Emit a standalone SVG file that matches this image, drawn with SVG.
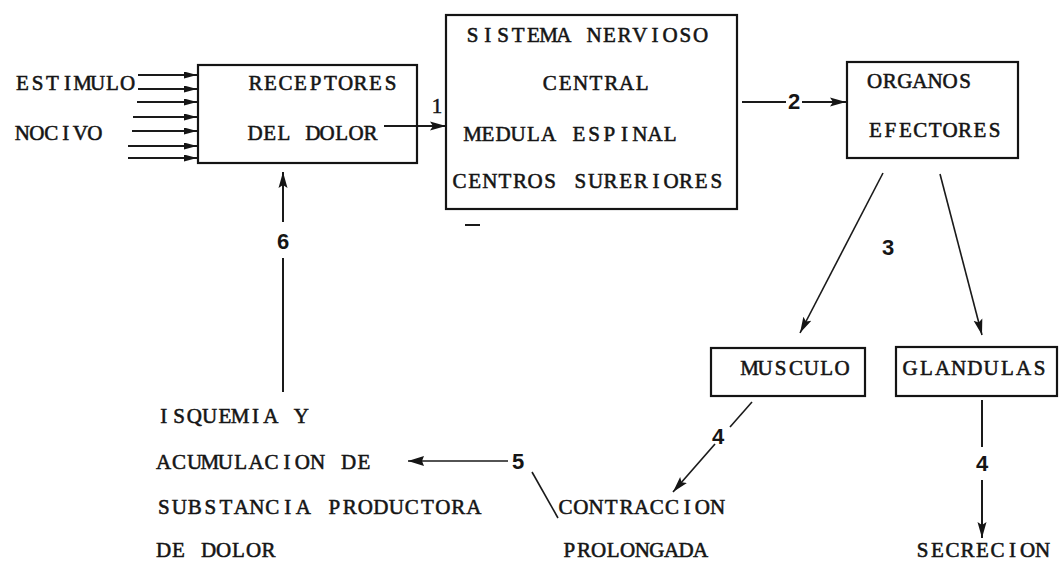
<svg xmlns="http://www.w3.org/2000/svg" width="1059" height="565" viewBox="0 0 1059 565">
<style>
.bg{fill:#ffffff}
.box{fill:none;stroke:#141414;stroke-width:2.2}
.tw{font-family:"Liberation Serif","DejaVu Serif",serif;font-size:21px;fill:#151515;stroke:#151515;stroke-width:0.55;text-anchor:middle}
.num{font-family:"Liberation Sans","DejaVu Sans",sans-serif;font-size:22px;font-weight:bold;fill:#151515}
.ln{stroke:#1a1a1a;stroke-width:1.6;fill:none}
.lns{stroke:#1a1a1a;stroke-width:2;fill:none}
</style>
<defs>
<marker id="ah" markerUnits="userSpaceOnUse" markerWidth="17" markerHeight="10" refX="16" refY="5" orient="auto">
<path d="M0,0.5 L16,5 L0,9.5 L3,5 z" fill="#151515"/>
</marker>
<marker id="ahs" markerUnits="userSpaceOnUse" markerWidth="13" markerHeight="7" refX="13" refY="3.5" orient="auto">
<path d="M0,0 L13,3.5 L0,7 z" fill="#151515"/>
</marker>
<marker id="ahb" markerUnits="userSpaceOnUse" markerWidth="17" markerHeight="11" refX="16" refY="5.5" orient="auto">
<path d="M0,0.5 L16,5.5 L0,10.5 L2,5.5 z" fill="#151515"/>
</marker>
</defs>
<rect class="bg" x="0" y="0" width="1059" height="565"/>

<g id="connectors">
<g id="stimulus-arrows">
<line class="lns" x1="138" y1="75" x2="197" y2="75" marker-end="url(#ahs)"/>
<line class="lns" x1="138" y1="89" x2="197" y2="89" marker-end="url(#ahs)"/>
<line class="lns" x1="137" y1="102" x2="197" y2="102" marker-end="url(#ahs)"/>
<line class="lns" x1="133" y1="117" x2="197" y2="117" marker-end="url(#ahs)"/>
<line class="lns" x1="132" y1="131" x2="197" y2="131" marker-end="url(#ahs)"/>
<line class="lns" x1="128" y1="146" x2="197" y2="146" marker-end="url(#ahs)"/>
<line class="lns" x1="128" y1="158" x2="197" y2="158" marker-end="url(#ahs)"/>
</g>
<g id="c1">
<line class="lns" x1="384" y1="126" x2="446" y2="126" marker-end="url(#ah)"/>
<text class="tw" x="437" y="113" font-size="22">1</text>
</g>
<g id="c2">
<line class="lns" x1="742" y1="102" x2="786" y2="102"/>
<line class="lns" x1="802" y1="102" x2="846" y2="102" marker-end="url(#ah)"/>
<text class="num" x="794" y="109" font-size="19" text-anchor="middle">2</text>
</g>
<g id="c3">
<line class="ln" x1="883" y1="173" x2="800" y2="333" marker-end="url(#ah)" stroke="#333"/>
<text class="num" x="888" y="255" text-anchor="middle">3</text>
</g>
<g id="c-glandulas">
<line class="ln" x1="940" y1="174" x2="982" y2="335" marker-end="url(#ah)"/>
</g>
<g id="c4a">
<line class="ln" x1="752" y1="402" x2="730" y2="427"/>
<line class="ln" x1="715" y1="444" x2="673" y2="492" marker-end="url(#ah)"/>
<text class="num" x="718" y="444" text-anchor="middle">4</text>
</g>
<g id="c4b">
<line class="lns" x1="982" y1="400" x2="982" y2="447"/>
<line class="lns" x1="982" y1="480" x2="982" y2="538" marker-end="url(#ah)"/>
<text class="num" x="982" y="471" text-anchor="middle">4</text>
</g>
<g id="c5">
<line class="ln" x1="508" y1="461" x2="408" y2="461" marker-end="url(#ahb)"/>
<text class="num" x="512" y="469">5</text>
<line class="ln" x1="532" y1="472" x2="558" y2="518"/>
</g>
<g id="c6">
<line class="lns" x1="283" y1="392" x2="283" y2="258"/>
<line class="lns" x1="283" y1="222" x2="283" y2="172" marker-end="url(#ah)"/>
<text class="num" x="283" y="249" font-size="23" text-anchor="middle">6</text>
</g>
</g>

<g id="estimulo">
<text class="tw" x="22.5 37.5 52.5 67.5 82.5 97.5 112.5 127.5" y="90">ESTIMULO</text>
<text class="tw" x="22.3 36.8 51.3 65.8 80.3 94.8" y="140">NOCIVO</text>
</g>

<g id="receptores">
<rect class="box" x="198" y="65" width="219" height="98"/>
<text class="tw" x="255.5 270.5 285.5 300.5 315.5 330.5 345.5 360.5 375.5 390.5" y="90">RECEPTORES</text>
<text class="tw" x="255.2 269.6 284 298.4 312.8 327.2 341.6 356 370.4" y="140">DEL DOLOR</text>
</g>

<g id="snc">
<rect class="box" x="446" y="15" width="291" height="194"/>
<text class="tw" x="472.6 487.8 503 518.2 533.4 548.6 563.8 579 594.2 609.4 624.6 639.8 655 670.2 685.4 700.6" y="42">SISTEMA NERVIOSO</text>
<text class="tw" x="549.7 565.1 580.5 595.9 611.3 626.7 642.1" y="90">CENTRAL</text>
<text class="tw" x="472.6 487.8 503 518.2 533.4 548.6 563.8 579 594.2 609.4 624.6 639.8 655 670.2" y="141">MEDULA ESPINAL</text>
<text class="tw" x="459.6 474.7 489.8 504.9 520 535.1 550.2 565.3 580.4 595.5 610.6 625.7 640.8 655.9 671 686.1 701.2 716.3" y="188">CENTROS SURERIORES</text>
<line class="lns" x1="465" y1="225" x2="480" y2="225"/>
</g>

<g id="organos">
<rect class="box" x="847" y="62" width="171" height="96"/>
<text class="tw" x="874.6 889.7 904.8 919.9 935 950.1 965.2" y="88">ORGANOS</text>
<text class="tw" x="875.5 890.4 905.3 920.2 935.1 950 964.9 979.8 994.7" y="137">EFECTORES</text>
</g>

<g id="musculo">
<rect class="box" x="711" y="348" width="154" height="48"/>
<text class="tw" x="749.7 765.1 780.5 795.9 811.3 826.7 842.1" y="375">MUSCULO</text>
</g>

<g id="glandulas">
<rect class="box" x="896" y="347" width="161" height="49"/>
<text class="tw" x="910.1 926.3 942.5 958.7 974.9 991.1 1007.3 1023.5 1039.7" y="375">GLANDULAS</text>
</g>

<g id="isquemia">
<text class="tw" x="163.7 179 194.3 209.6 224.9 240.2 255.5 270.8 286.1 301.4" y="423">ISQUEMIA Y</text>
<text class="tw" x="163.7 179.1 194.5 209.9 225.3 240.7 256.1 271.5 286.9 302.3 317.7 333.1 348.5 363.9" y="469">ACUMULACION DE</text>
<text class="tw" x="163.8 179.3 194.8 210.3 225.8 241.3 256.8 272.3 287.8 303.3 318.8 334.3 349.8 365.3 380.8 396.3 411.8 427.3 442.8 458.3 473.8" y="514">SUBSTANCIA PRODUCTORA</text>
<text class="tw" x="163.5 178.5 193.5 208.5 223.5 238.5 253.5 268.5" y="557">DE DOLOR</text>
</g>

<g id="contraccion">
<text class="tw" x="565.6 580.8 596 611.2 626.4 641.6 656.8 672 687.2 702.4 717.6" y="514">CONTRACCION</text>
<text class="tw" x="569.3 583.9 598.5 613.1 627.7 642.3 656.9 671.5 686.1 700.7" y="557">PROLONGADA</text>
</g>

<g id="secrecion">
<text class="tw" x="922.5 937.5 952.5 967.5 982.5 997.5 1012.5 1027.5 1042.5" y="557">SECRECION</text>
</g>
</svg>
